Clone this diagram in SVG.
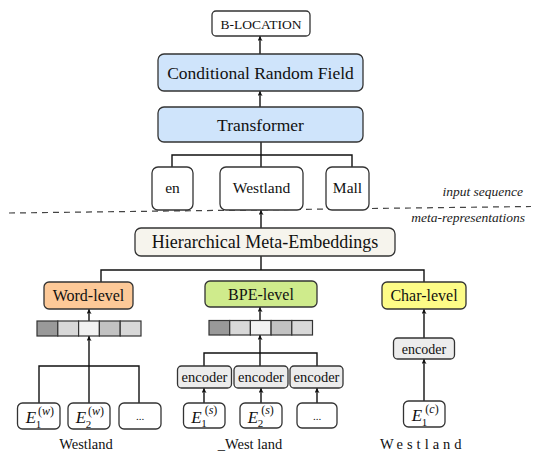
<svg xmlns="http://www.w3.org/2000/svg" width="539" height="465" viewBox="0 0 539 465">
<style>
.box{stroke:#333;stroke-width:1.3}
.w{fill:#fff}
.blue{fill:#cfe4fb}
.hme{fill:#f6f4ed}
.word{fill:#fdc998}
.bpe{fill:#cfeb8c}
.char{fill:#fdfc87}
.enc{fill:#ececec}
text{font-family:'Liberation Serif','DejaVu Serif',serif}
.t{fill:#111;text-anchor:middle}
.it{font-style:italic}
.lbl{fill:#222;font-style:italic;font-size:13.5px;text-anchor:end}
.ln{stroke:#111;stroke-width:1.4;fill:none}
.ar{stroke:#111;stroke-width:1.4;fill:none;marker-end:url(#ah)}
.cell{stroke:#333;stroke-width:1.2}
</style>
<defs>
<marker id="ah" viewBox="0 0 10 10" refX="10" refY="5" markerWidth="5" markerHeight="5" orient="auto" markerUnits="userSpaceOnUse">
<path d="M0,0 L10,5 L0,10 L2.5,5 z" fill="#111"/>
</marker>
</defs>

<g id="connectors">
<line class="ar" x1="260" y1="54" x2="260" y2="36"/>
<line class="ar" x1="260" y1="107" x2="260" y2="91"/>
<path class="ln" d="M261,142 V167 M172,167 V155 H352 V167"/>
<line class="ar" x1="261" y1="228" x2="261" y2="210"/>
<path class="ln" d="M261,256 V270 M101,282 V270 H424 V282"/>
<line class="ar" x1="89" y1="321" x2="89" y2="309"/>
<path class="ln" d="M39,403 V366 H139 V403"/>
<line class="ar" x1="89" y1="403" x2="89" y2="336"/>
<line class="ar" x1="260" y1="320" x2="260" y2="307"/>
<path class="ln" d="M204,366 V353 H317 V366"/>
<line class="ar" x1="260" y1="366" x2="260" y2="335"/>
<line class="ar" x1="204" y1="403" x2="204" y2="388"/>
<line class="ar" x1="261" y1="403" x2="261" y2="388"/>
<line class="ar" x1="317" y1="403" x2="317" y2="388"/>
<line class="ar" x1="424" y1="338" x2="424" y2="309"/>
<line class="ar" x1="424" y1="401" x2="424" y2="359"/>
</g>

<g id="divider">
<line x1="9" y1="213" x2="531" y2="206.5" stroke="#444" stroke-width="1.2" stroke-dasharray="6,5"/>
<text class="lbl" x="523" y="196">input sequence</text>
<text class="lbl" x="525" y="222">meta-representations</text>
</g>

<g id="blocation">
<rect class="box w" x="212" y="11" width="98" height="25" rx="4"/>
<text class="t" x="261" y="28.5" font-size="13.5">B-LOCATION</text>
</g>
<g id="crf">
<rect class="box blue" x="158" y="54" width="205" height="37" rx="6"/>
<text class="t" x="260.5" y="78.5" font-size="17.5">Conditional Random Field</text>
</g>
<g id="transformer">
<rect class="box blue" x="158" y="107" width="205" height="35" rx="6"/>
<text class="t" x="260.5" y="130.5" font-size="17.5">Transformer</text>
</g>

<g id="tok-en">
<rect class="box w" x="152" y="167" width="41" height="43" rx="6"/>
<text class="t" x="172.5" y="193" font-size="15.5">en</text>
</g>
<g id="tok-westland">
<rect class="box w" x="220" y="167" width="83" height="43" rx="6"/>
<text class="t" x="261.5" y="193" font-size="15.5">Westland</text>
</g>
<g id="tok-mall">
<rect class="box w" x="326" y="167" width="43" height="43" rx="6"/>
<text class="t" x="347.5" y="193" font-size="15.5">Mall</text>
</g>

<g id="hme">
<rect class="box hme" x="135" y="228" width="260" height="28" rx="6"/>
<text class="t" x="265" y="248" font-size="18">Hierarchical Meta-Embeddings</text>
</g>

<g id="word-level">
<rect class="box word" x="44" y="282" width="89" height="27" rx="5"/>
<text class="t" x="88.5" y="300.5" font-size="16">Word-level</text>
</g>
<g id="bpe-level">
<rect class="box bpe" x="205" y="281" width="112" height="26" rx="5"/>
<text class="t" x="261" y="299.5" font-size="16">BPE-level</text>
</g>
<g id="char-level">
<rect class="box char" x="382" y="282" width="84" height="27" rx="5"/>
<text class="t" x="424" y="300.5" font-size="16">Char-level</text>
</g>

<g id="word-vector">
<rect class="cell" x="37" y="321" width="20.8" height="15" fill="#999"/>
<rect class="cell" x="57.8" y="321" width="20.8" height="15" fill="#d8d8d8"/>
<rect class="cell" x="78.6" y="321" width="20.8" height="15" fill="#f2f2f2"/>
<rect class="cell" x="99.4" y="321" width="20.8" height="15" fill="#c2c2c2"/>
<rect class="cell" x="120.2" y="321" width="20.8" height="15" fill="#d8d8d8"/>
</g>
<g id="bpe-vector">
<rect class="cell" x="209" y="320.5" width="20.7" height="14.5" fill="#999"/>
<rect class="cell" x="229.7" y="320.5" width="20.7" height="14.5" fill="#d8d8d8"/>
<rect class="cell" x="250.4" y="320.5" width="20.7" height="14.5" fill="#f2f2f2"/>
<rect class="cell" x="271.1" y="320.5" width="20.7" height="14.5" fill="#c2c2c2"/>
<rect class="cell" x="291.8" y="320.5" width="20.7" height="14.5" fill="#d8d8d8"/>
</g>

<g id="bpe-enc1">
<rect class="box enc" x="177.5" y="366" width="54" height="22" rx="4"/>
<text class="t" x="204.5" y="382" font-size="14.5">encoder</text>
</g>
<g id="bpe-enc2">
<rect class="box enc" x="234" y="366" width="54" height="22" rx="4"/>
<text class="t" x="261" y="382" font-size="14.5">encoder</text>
</g>
<g id="bpe-enc3">
<rect class="box enc" x="290" y="366" width="53" height="22" rx="4"/>
<text class="t" x="316.5" y="382" font-size="14.5">encoder</text>
</g>
<g id="char-enc">
<rect class="box enc" x="393.5" y="338" width="61" height="21" rx="4"/>
<text class="t" x="424" y="353.5" font-size="14">encoder</text>
</g>

<g id="ew1">
<rect class="box w" x="17.5" y="403" width="42.5" height="26" rx="5"/>
<text class="t it" x="31" y="423" font-size="17">E</text>
<text class="t" x="38.5" y="427.5" font-size="11">1</text>
<text class="t" x="46" y="414.5" font-size="12">(<tspan class="it">w</tspan>)</text>
</g>
<g id="ew2">
<rect class="box w" x="68" y="403" width="42" height="26" rx="5"/>
<text class="t it" x="81" y="423" font-size="17">E</text>
<text class="t" x="88.5" y="427.5" font-size="11">2</text>
<text class="t" x="96" y="414.5" font-size="12">(<tspan class="it">w</tspan>)</text>
</g>
<g id="ew3">
<rect class="box w" x="119" y="403" width="42" height="26" rx="5"/>
<text class="t" x="140" y="420" font-size="11">...</text>
</g>
<text class="t" x="86" y="449" font-size="14.5">Westland</text>

<g id="es1">
<rect class="box w" x="183.5" y="403" width="41.5" height="25" rx="5"/>
<text class="t it" x="196.5" y="422.5" font-size="17">E</text>
<text class="t" x="204" y="427" font-size="11">1</text>
<text class="t" x="211" y="414" font-size="12">(<tspan class="it">s</tspan>)</text>
</g>
<g id="es2">
<rect class="box w" x="240" y="403" width="42" height="25" rx="5"/>
<text class="t it" x="253" y="422.5" font-size="17">E</text>
<text class="t" x="260.5" y="427" font-size="11">2</text>
<text class="t" x="267.5" y="414" font-size="12">(<tspan class="it">s</tspan>)</text>
</g>
<g id="es3">
<rect class="box w" x="297" y="403" width="40" height="25" rx="5"/>
<text class="t" x="317" y="420" font-size="11">...</text>
</g>
<text class="t" x="250" y="449" font-size="14.5">_West land</text>

<g id="ec1">
<rect class="box w" x="403.5" y="401" width="41.5" height="26" rx="5"/>
<text class="t it" x="417" y="421" font-size="17">E</text>
<text class="t" x="424.5" y="425.5" font-size="11">1</text>
<text class="t" x="432" y="412.5" font-size="12">(<tspan class="it">c</tspan>)</text>
</g>
<text x="380" y="449" font-size="14.5" fill="#111" letter-spacing="4">Westland</text>
</svg>
